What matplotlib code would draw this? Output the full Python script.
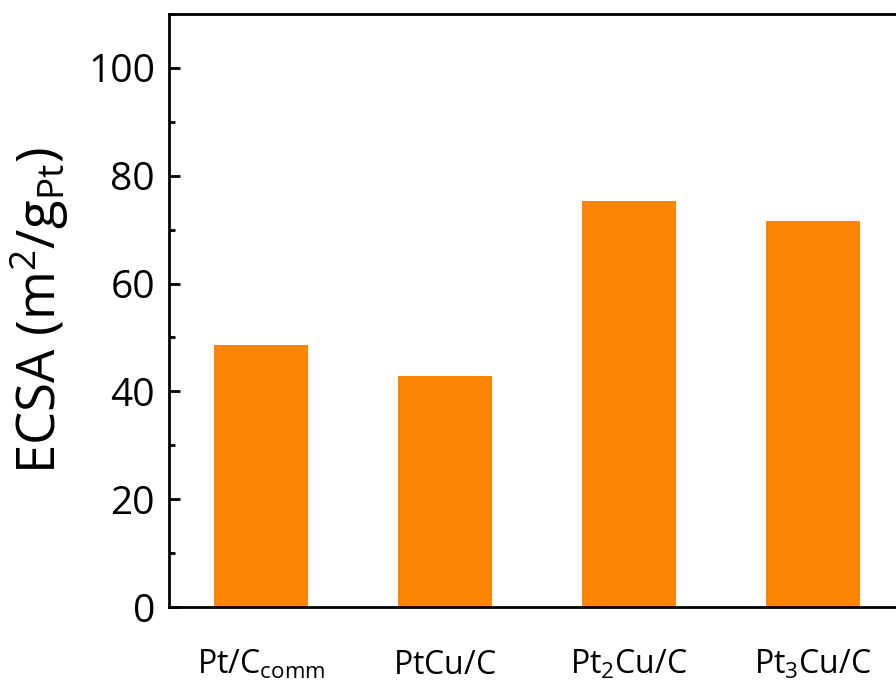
import matplotlib
matplotlib.use("Agg")
import matplotlib.pyplot as plt
from matplotlib.ticker import MultipleLocator

categories = [r"$\mathrm{Pt/C_{comm}}$", r"$\mathrm{PtCu/C}$", r"$\mathrm{Pt_{2}Cu/C}$", r"$\mathrm{Pt_{3}Cu/C}$"]
ecsa = [48.6, 42.9, 75.3, 71.6]

plt.rcParams['font.family'] = ['Open Sans', 'DejaVu Sans']
plt.rcParams['mathtext.fontset'] = 'custom'
plt.rcParams['mathtext.rm'] = 'Open Sans'
plt.rcParams['mathtext.it'] = 'Open Sans:italic'
plt.rcParams['mathtext.bf'] = 'Open Sans:bold'

fig = plt.figure(figsize=(8.96, 6.89), dpi=100)
ax = fig.add_axes([169/896, 82/689, (905-169)/896, (607-14)/689])

x = list(range(1, len(ecsa) + 1))
ax.bar(x, ecsa, width=0.51, color='#FF8505', edgecolor='none')

ax.set_xlim(0.5, 4.5)
ax.set_ylim(0, 110)
ax.set_xticks(x)
ax.set_xticklabels(categories, fontsize=23)
ax.yaxis.set_major_locator(MultipleLocator(20))
ax.yaxis.set_minor_locator(MultipleLocator(10))
ax.tick_params(axis='y', which='major', direction='in', length=8, width=2, labelsize=28, pad=10)
ax.tick_params(axis='y', which='minor', direction='in', length=4.5, width=2)
ax.tick_params(axis='x', which='both', length=0, pad=30)
for s in ax.spines.values():
    s.set_linewidth(2)
ax.set_ylabel(r"ECSA (m$^{2}$/g$_{\mathrm{Pt}}$)", fontsize=38, labelpad=12)

fig.savefig("out.png", dpi=100)
